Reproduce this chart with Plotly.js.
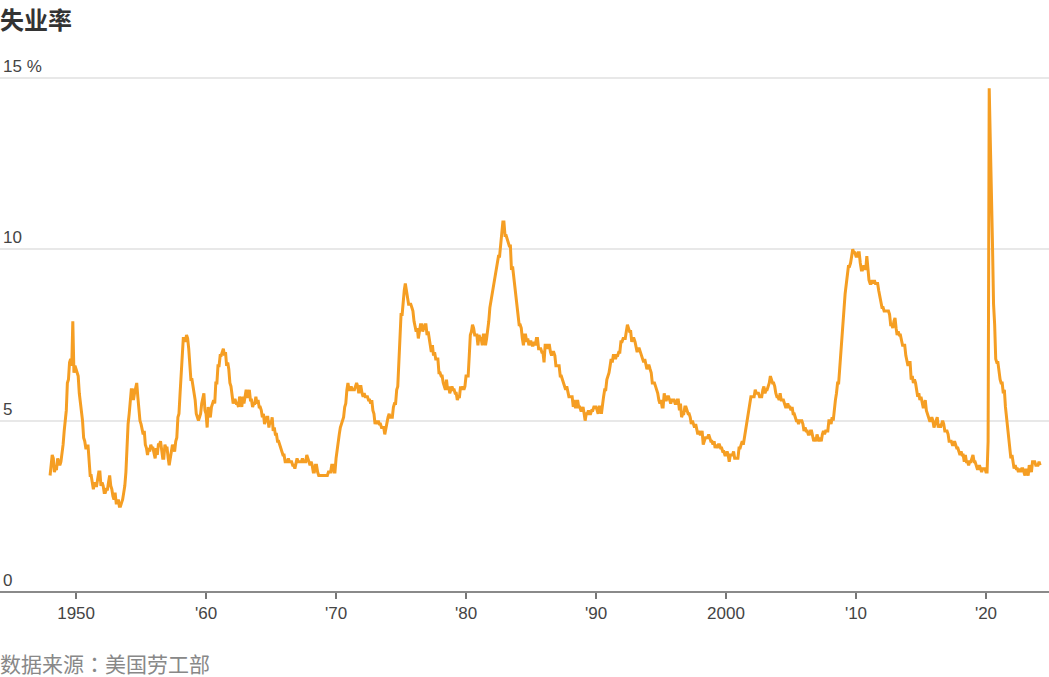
<!DOCTYPE html>
<html>
<head>
<meta charset="utf-8">
<script src="https://cdn.plot.ly/plotly-3.0.1.min.js"></script>
<style>
  html, body { margin: 0; padding: 0; background: #fff; }
  #chart { width: 1049px; height: 677px; }
</style>
</head>
<body>
<div id="chart"></div>
<script>
// Monthly US unemployment rate (%), starting January 1948
const startYear = 1948;
const rates1940s = [
  3.4,3.8,4.0,3.9,3.5,3.6,3.6,3.9,3.8,3.7,3.8,4.0,
  4.3,4.7,5.0,5.3,6.1,6.2,6.7,6.8,6.6,7.9,6.4,6.6
];
const rates1950s = [
  6.5,6.4,6.3,5.8,5.5,5.4,5.0,4.5,4.4,4.2,4.2,4.3,
  3.7,3.4,3.4,3.1,3.0,3.2,3.1,3.1,3.3,3.5,3.5,3.1,
  3.2,3.1,2.9,2.9,3.0,3.0,3.2,3.4,3.1,3.0,2.8,2.7,
  2.9,2.6,2.6,2.7,2.5,2.5,2.6,2.7,2.9,3.1,3.5,4.5,
  4.9,5.2,5.7,5.9,5.9,5.6,5.8,6.0,6.1,5.7,5.3,5.0,
  4.9,4.7,4.6,4.7,4.3,4.2,4.0,4.2,4.1,4.3,4.2,4.2,
  4.0,3.9,4.2,4.0,4.3,4.3,4.4,4.1,3.9,3.9,4.3,4.2,
  4.2,3.9,3.7,3.9,4.1,4.3,4.2,4.1,4.4,4.5,5.1,5.2,
  5.8,6.4,6.7,7.4,7.4,7.3,7.5,7.4,7.1,6.7,6.2,6.2,
  6.0,5.9,5.6,5.2,5.1,5.0,5.1,5.2,5.5,5.7,5.8,5.3
];
const rates1960s = [
  5.2,4.8,5.4,5.2,5.1,5.4,5.5,5.6,5.5,6.1,6.1,6.6,
  6.6,6.9,6.9,7.0,7.1,6.9,7.0,6.6,6.7,6.5,6.1,6.0,
  5.8,5.5,5.6,5.6,5.5,5.5,5.4,5.7,5.6,5.4,5.7,5.5,
  5.7,5.9,5.7,5.7,5.9,5.6,5.6,5.4,5.5,5.5,5.7,5.5,
  5.6,5.4,5.4,5.3,5.1,5.2,4.9,5.0,5.1,5.1,4.8,5.0,
  4.9,5.1,4.7,4.8,4.6,4.6,4.4,4.4,4.3,4.2,4.1,4.0,
  4.0,3.8,3.8,3.8,3.9,3.8,3.8,3.8,3.7,3.7,3.6,3.8,
  3.9,3.8,3.8,3.8,3.8,3.9,3.8,3.8,3.8,4.0,3.9,3.8,
  3.7,3.8,3.7,3.5,3.5,3.7,3.7,3.5,3.4,3.4,3.4,3.4,
  3.4,3.4,3.4,3.4,3.4,3.5,3.5,3.5,3.7,3.7,3.5,3.5
];
const rates1970s = [
  3.9,4.2,4.4,4.6,4.8,4.9,5.0,5.1,5.4,5.5,5.9,6.1,
  5.9,5.9,6.0,5.9,5.9,5.9,6.0,6.1,6.0,5.8,6.0,6.0,
  5.8,5.7,5.8,5.7,5.7,5.7,5.6,5.6,5.5,5.6,5.3,5.2,
  4.9,5.0,4.9,5.0,4.9,4.9,4.8,4.8,4.8,4.6,4.8,4.9,
  5.1,5.2,5.1,5.1,5.1,5.4,5.5,5.5,5.9,6.0,6.6,7.2,
  8.1,8.1,8.6,8.8,9.0,8.8,8.6,8.4,8.4,8.4,8.3,8.2,
  7.9,7.7,7.6,7.7,7.4,7.6,7.8,7.8,7.6,7.7,7.8,7.8,
  7.5,7.6,7.4,7.2,7.0,7.2,6.9,7.0,6.8,6.8,6.8,6.4,
  6.4,6.3,6.3,6.1,6.0,5.9,6.2,5.9,6.0,5.8,5.9,6.0,
  5.9,5.9,5.8,5.8,5.6,5.7,5.7,6.0,5.9,6.0,5.9,6.0
];
const rates1980s = [
  6.3,6.3,6.3,6.9,7.5,7.6,7.8,7.7,7.5,7.5,7.5,7.2,
  7.5,7.4,7.4,7.2,7.5,7.5,7.2,7.4,7.6,7.9,8.3,8.5,
  8.6,8.9,9.0,9.3,9.4,9.6,9.8,9.8,10.1,10.4,10.8,10.8,
  10.4,10.4,10.3,10.2,10.1,10.1,9.4,9.5,9.2,8.8,8.5,8.3,
  8.0,7.8,7.8,7.7,7.4,7.2,7.5,7.5,7.3,7.4,7.2,7.3,
  7.3,7.2,7.2,7.3,7.2,7.4,7.4,7.1,7.1,7.1,7.0,7.0,
  6.7,7.2,7.2,7.1,7.2,7.2,7.0,6.9,7.0,7.0,6.9,6.6,
  6.6,6.6,6.6,6.3,6.3,6.2,6.1,6.0,5.9,6.0,5.8,5.7,
  5.7,5.7,5.7,5.4,5.6,5.4,5.4,5.6,5.4,5.4,5.3,5.3,
  5.4,5.2,5.0,5.2,5.2,5.3,5.2,5.2,5.3,5.3,5.4,5.4
];
const rates1990s = [
  5.4,5.3,5.2,5.4,5.4,5.2,5.5,5.7,5.9,5.9,6.2,6.3,
  6.4,6.6,6.8,6.7,6.9,6.9,6.8,6.9,6.9,7.0,7.0,7.3,
  7.3,7.4,7.4,7.4,7.6,7.8,7.7,7.6,7.6,7.3,7.4,7.4,
  7.3,7.1,7.0,7.1,7.1,7.0,6.9,6.8,6.7,6.8,6.6,6.5,
  6.6,6.6,6.5,6.4,6.1,6.1,6.1,6.0,5.9,5.8,5.6,5.5,
  5.6,5.4,5.4,5.8,5.6,5.6,5.7,5.7,5.6,5.5,5.6,5.6,
  5.6,5.5,5.5,5.6,5.6,5.3,5.5,5.1,5.2,5.2,5.4,5.4,
  5.3,5.2,5.2,5.1,4.9,5.0,4.9,4.8,4.9,4.7,4.6,4.7,
  4.6,4.6,4.7,4.3,4.4,4.5,4.5,4.5,4.6,4.5,4.4,4.4,
  4.3,4.4,4.2,4.3,4.2,4.3,4.3,4.2,4.2,4.1,4.1,4.0
];
const rates2000s = [
  4.0,4.1,4.0,3.8,4.0,4.0,4.0,4.1,3.9,3.9,3.9,3.9,
  4.2,4.2,4.3,4.4,4.3,4.5,4.6,4.9,5.0,5.3,5.5,5.7,
  5.7,5.7,5.7,5.9,5.8,5.8,5.8,5.7,5.7,5.7,5.9,6.0,
  5.8,5.9,5.9,6.0,6.1,6.3,6.2,6.1,6.1,6.0,5.8,5.7,
  5.7,5.6,5.8,5.6,5.6,5.6,5.5,5.4,5.4,5.5,5.4,5.4,
  5.3,5.4,5.2,5.2,5.1,5.0,5.0,4.9,5.0,5.0,5.0,4.9,
  4.7,4.8,4.7,4.7,4.6,4.6,4.7,4.7,4.5,4.4,4.5,4.4,
  4.6,4.5,4.4,4.5,4.4,4.6,4.7,4.6,4.7,4.7,4.7,5.0,
  5.0,4.9,5.1,5.0,5.4,5.6,5.8,6.1,6.1,6.5,6.8,7.3,
  7.8,8.3,8.7,9.0,9.4,9.5,9.5,9.6,9.8,10.0,9.9,9.9
];
const rates2010s = [
  9.8,9.8,9.9,9.9,9.6,9.4,9.4,9.5,9.5,9.4,9.8,9.3,
  9.1,9.0,9.0,9.1,9.0,9.1,9.0,9.0,9.0,8.8,8.6,8.5,
  8.3,8.3,8.2,8.2,8.2,8.2,8.2,8.1,7.8,7.8,7.7,7.9,
  8.0,7.7,7.5,7.6,7.5,7.5,7.3,7.2,7.2,7.2,6.9,6.7,
  6.6,6.7,6.7,6.2,6.3,6.1,6.2,6.1,5.9,5.7,5.8,5.6,
  5.7,5.5,5.4,5.4,5.6,5.3,5.2,5.1,5.0,5.0,5.1,5.0,
  4.8,4.9,5.0,5.1,4.8,4.9,4.8,4.9,5.0,4.9,4.7,4.7,
  4.7,4.6,4.4,4.4,4.4,4.3,4.3,4.4,4.3,4.2,4.2,4.1,
  4.0,4.1,4.0,4.0,3.8,4.0,3.8,3.8,3.7,3.8,3.8,3.9,
  4.0,3.8,3.8,3.7,3.6,3.6,3.7,3.6,3.5,3.6,3.6,3.6
];
const rates2020s = [
  3.5,3.5,4.4,14.7,13.2,11.0,10.2,8.4,7.8,6.8,6.7,6.7,
  6.4,6.2,6.1,6.1,5.8,5.9,5.4,5.1,4.7,4.5,4.2,3.9,
  4.0,3.8,3.6,3.7,3.6,3.6,3.5,3.6,3.5,3.6,3.6,3.5,
  3.4,3.6,3.5,3.4,3.7,3.6,3.5,3.8,3.8,3.8,3.7,3.7,
  3.7,3.8,3.7
];

const tickYears = [1950, 1960, 1970, 1980, 1990, 2000, 2010, 2020];
const tickLabels = ['1950', "'60", "'70", "'80", "'90", '2000', "'10", "'20"];
const yTicks = [0, 5, 10, 15];
const yTickLabels = ['0', '5', '10', '15 %'];

const rates = [].concat(rates1940s, rates1950s, rates1960s, rates1970s,
                        rates1980s, rates1990s, rates2000s, rates2010s, rates2020s);
const dates = rates.map((_, i) => {
  const y = startYear + Math.floor(i / 12);
  const m = (i % 12) + 1;
  return y + '-' + (m < 10 ? '0' + m : m) + '-01';
});

const FONT = '"Liberation Sans", Arial, "Noto Sans CJK SC", sans-serif';
const CJK = '"Noto Sans CJK SC", "Liberation Sans", sans-serif';

const trace = {
  x: dates,
  y: rates,
  type: 'scatter',
  mode: 'lines',
  line: { color: '#F59E23', width: 3 },
  hoverinfo: 'skip'
};

const layout = {
  width: 1049,
  height: 677,
  margin: { l: 0, r: 0, t: 54, b: 85 },
  paper_bgcolor: '#ffffff',
  plot_bgcolor: '#ffffff',
  showlegend: false,
  font: { family: FONT, size: 16, color: '#444' },
  xaxis: {
    type: 'date',
    range: ['1944-02-24', '2024-11-06'],
    tickvals: tickYears.map(y => y + '-01-01'),
    ticktext: tickLabels,
    ticks: 'outside',
    ticklen: 6,
    tickwidth: 1.5,
    tickcolor: '#777',
    showgrid: false,
    zeroline: false,
    showline: false,
    tickfont: { family: FONT, size: 17, color: '#444' },
    fixedrange: true
  },
  yaxis: {
    range: [0, 15.7],
    tickvals: yTicks,
    ticktext: yTickLabels,
    ticklabelposition: 'inside top',
    showgrid: true,
    gridcolor: '#e8e8e8',
    gridwidth: 2,
    zeroline: true,
    zerolinecolor: '#8a8a8a',
    zerolinewidth: 2,
    showline: false,
    ticks: '',
    tickfont: { family: FONT, size: 17, color: '#444' },
    fixedrange: true
  },
  annotations: [
    {
      text: '<b>失业率</b>',
      xref: 'paper', yref: 'paper',
      x: 0, y: 1,
      xanchor: 'left', yanchor: 'middle',
      yshift: 36,
      xshift: -2,
      showarrow: false,
      font: { family: CJK, size: 24, color: '#333' }
    },
    {
      text: '数据来源<span style="font-family:\'Noto Sans CJK TC\'">：</span>美国劳工部',
      xref: 'paper', yref: 'paper',
      x: 0, y: 0,
      xanchor: 'left', yanchor: 'middle',
      yshift: -71,
      xshift: -2,
      showarrow: false,
      font: { family: CJK, size: 21, color: '#888' }
    }
  ]
};

Plotly.newPlot('chart', [trace], layout, { displayModeBar: false, staticPlot: true });
</script>
</body>
</html>
